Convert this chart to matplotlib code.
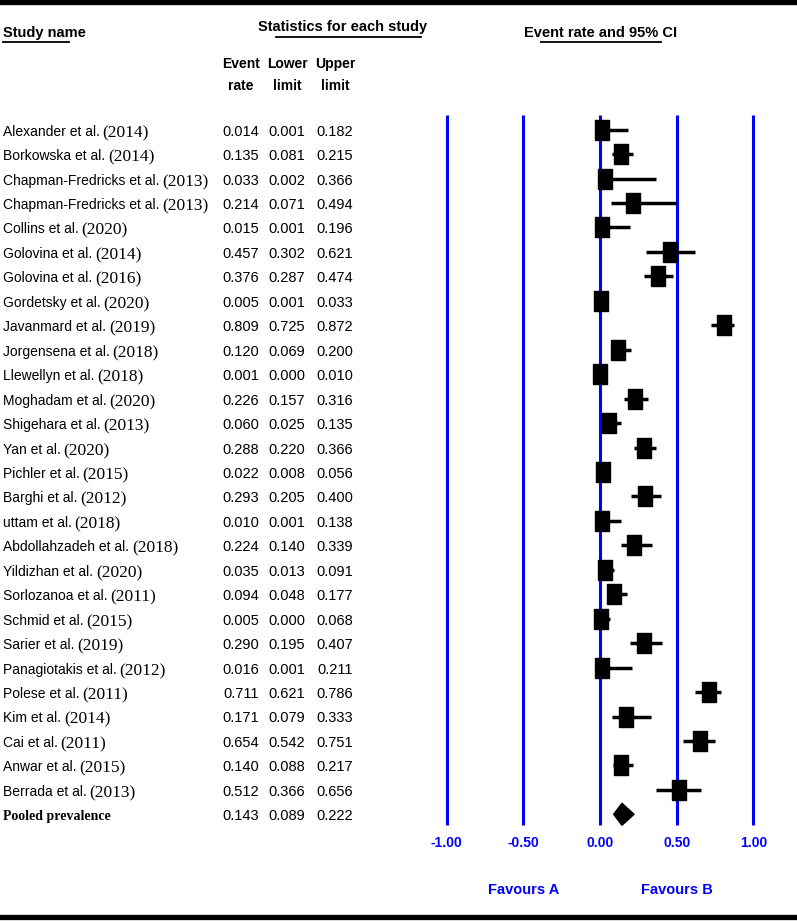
import matplotlib
matplotlib.use("Agg")
import matplotlib.pyplot as plt
from matplotlib.lines import Line2D
from matplotlib.patches import Polygon
from matplotlib.transforms import blended_transform_factory

# ---- data ----
studies = [
    "Alexander et al.", "Borkowska et al.", "Chapman-Fredricks et al.",
    "Chapman-Fredricks et al.", "Collins et al.", "Golovina et al.",
    "Golovina et al.", "Gordetsky et al.", "Javanmard et al.",
    "Jorgensena et al.", "Llewellyn et al.", "Moghadam et al.",
    "Shigehara et al.", "Yan et al.", "Pichler et al.", "Barghi et al.",
    "uttam et al.", "Abdollahzadeh et al.", "Yildizhan et al.",
    "Sorlozanoa et al.", "Schmid et al.", "Sarier et al.",
    "Panagiotakis et al.", "Polese et al.", "Kim et al.", "Cai et al.",
    "Anwar et al.", "Berrada et al.",
]
years = [
    "(2014)", "(2014)", "(2013)", "(2013)", "(2020)", "(2014)", "(2016)",
    "(2020)", "(2019)", "(2018)", "(2018)", "(2020)", "(2013)", "(2020)",
    "(2015)", "(2012)", "(2018)", "(2018)", "(2020)", "(2011)", "(2015)",
    "(2019)", "(2012)", "(2011)", "(2014)", "(2011)", "(2015)", "(2013)",
]
event_rate = [0.014, 0.135, 0.033, 0.214, 0.015, 0.457, 0.376, 0.005, 0.809,
              0.120, 0.001, 0.226, 0.060, 0.288, 0.022, 0.293, 0.010, 0.224,
              0.035, 0.094, 0.005, 0.290, 0.016, 0.711, 0.171, 0.654, 0.140,
              0.512]
lower_limit = [0.001, 0.081, 0.002, 0.071, 0.001, 0.302, 0.287, 0.001, 0.725,
               0.069, 0.000, 0.157, 0.025, 0.220, 0.008, 0.205, 0.001, 0.140,
               0.013, 0.048, 0.000, 0.195, 0.001, 0.621, 0.079, 0.542, 0.088,
               0.366]
upper_limit = [0.182, 0.215, 0.366, 0.494, 0.196, 0.621, 0.474, 0.033, 0.872,
               0.200, 0.010, 0.316, 0.135, 0.366, 0.056, 0.400, 0.138, 0.339,
               0.091, 0.177, 0.068, 0.407, 0.211, 0.786, 0.333, 0.751, 0.217,
               0.656]
pooled = (0.143, 0.089, 0.222)
axis_ticks = [-1.0, -0.5, 0.0, 0.5, 1.0]

W, H = 797, 921
BLUE = "#0000ff"
SANS = "Liberation Sans"
SERIF = "Liberation Serif"

fig = plt.figure(figsize=(W / 100, H / 100), dpi=100)
ax = fig.add_axes([0, 0, 1, 1])
ax.axis("off")

# pixel layout: x=0 at 600px, 0.5 units = 76.7px; rows start at 129.7px, 24.45px apart
ppu = 153.4
ax.set_xlim(-600 / ppu, (W - 600) / ppu)
row0, dy = 129.7, 24.45
ax.set_ylim((H - row0) / dy, -row0 / dy)


def row_of(py):
    return (py - row0) / dy


tr = blended_transform_factory(fig.transFigure, ax.transData)
rows = list(range(len(studies)))
pooled_row = len(studies)

# blue reference lines
ax.vlines(axis_ticks, row_of(115), row_of(825), color=BLUE, lw=2.2, zorder=1)
for t in axis_ticks:
    ax.text(t, row_of(843), f"{t:.2f}", color=BLUE, fontsize=10,
            fontweight="bold", family=SANS, ha="center", va="center")
ax.text(-0.5, row_of(890), "Favours A", color=BLUE, fontsize=10.5,
        fontweight="bold", family=SANS, ha="center", va="center")
ax.text(0.5, row_of(890), "Favours B", color=BLUE, fontsize=10.5,
        fontweight="bold", family=SANS, ha="center", va="center")

# CIs and point estimates
ax.hlines(rows, lower_limit, upper_limit, color="black", lw=2.5, zorder=2)
box = [(-7, -10), (7, -10), (7, 10), (-7, 10), (-7, -10)]
ax.plot(event_rate, rows, linestyle="none", marker=box, markersize=14.5,
        color="black", zorder=3)

est, lo, hi = pooled
ax.add_patch(Polygon([(lo, pooled_row), (est, pooled_row - 0.45),
                      (hi, pooled_row), (est, pooled_row + 0.45)],
                     closed=True, color="black", zorder=3))

# left table
for i in rows:
    name = ax.text(3 / W, i + 0.08, studies[i], transform=tr, fontsize=10,
                   family=SANS, ha="left", va="center")
    ax.annotate(years[i], xy=(1, 0.5), xycoords=name, xytext=(2, -1),
                textcoords="offset points", fontsize=12.5, family=SERIF,
                ha="left", va="center")
    for cx, v in zip((241, 287, 335), (event_rate[i], lower_limit[i], upper_limit[i])):
        ax.text(cx / W, i + 0.08, f"{v:.3f}", transform=tr, fontsize=10.5,
                family=SANS, ha="center", va="center")

ax.text(3 / W, pooled_row + 0.08, "Pooled prevalence", transform=tr,
        fontsize=10, family=SERIF, fontweight="bold", ha="left", va="center")
for cx, v in zip((241, 287, 335), pooled):
    ax.text(cx / W, pooled_row + 0.08, f"{v:.3f}", transform=tr, fontsize=10.5,
            family=SANS, ha="center", va="center")

# headers
ax.text(3 / W, row_of(33), "Study name", transform=tr, fontsize=10.5,
        fontweight="bold", family=SANS, ha="left", va="center")
ax.text(343 / W, row_of(27), "Statistics for each study", transform=tr,
        fontsize=10.5, fontweight="bold", family=SANS, ha="center", va="center")
ax.text(601 / W, row_of(33), "Event rate and 95% CI", transform=tr,
        fontsize=10.5, fontweight="bold", family=SANS, ha="center", va="center")
for cx, top, bottom in ((241, "Event", "rate"), (287, "Lower", "limit"),
                        (335, "Upper", "limit")):
    ax.text(cx / W, row_of(64), top, transform=tr, fontsize=10,
            fontweight="bold", family=SANS, ha="center", va="center")
    ax.text(cx / W, row_of(86), bottom, transform=tr, fontsize=10,
            fontweight="bold", family=SANS, ha="center", va="center")

# header underlines and frame rules (figure pixels)
def hrule(x0, x1, y, lw):
    fig.add_artist(Line2D([x0 / W, x1 / W], [1 - y / H, 1 - y / H],
                          transform=fig.transFigure, color="black", lw=lw))


hrule(3, 69, 42, 1.3)
hrule(276, 421, 37, 1.3)
hrule(541, 661, 42, 1.3)
hrule(0, W, 2.5, 3.8)
hrule(0, W, 917, 3.8)

fig.savefig("out.png", dpi=100)
